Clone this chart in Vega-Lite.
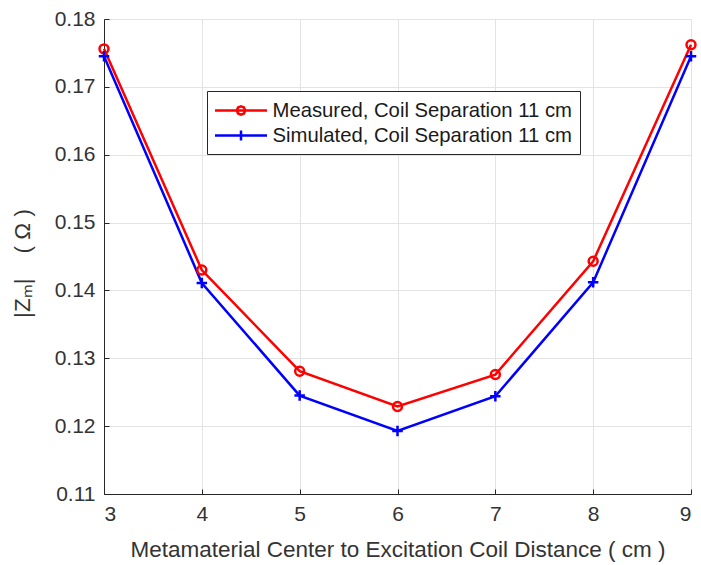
{
  "$schema": "https://vega.github.io/schema/vega-lite/v6.json",
  "autosize": {"type": "none"},
  "width": 587,
  "height": 475,
  "padding": {"left": 104, "top": 19, "right": 10, "bottom": 71},
  "background": "white",
  "config": {
    "font": "Liberation Sans",
    "view": {"stroke": null},
    "axis": {
      "labelFont": "Liberation Sans",
      "titleFont": "Liberation Sans",
      "labelFontSize": 21,
      "titleFontSize": 22.5,
      "labelColor": "#333333",
      "titleColor": "#333333",
      "titleFontWeight": "normal",
      "domainColor": "#262626",
      "tickColor": "#262626",
      "gridColor": "#e3e3e3",
      "gridWidth": 1
    }
  },
  "data": {
    "values": [
      {"series": "Measured, Coil Separation 11 cm", "d": 3, "z": 0.1756},
      {"series": "Measured, Coil Separation 11 cm", "d": 4, "z": 0.1430},
      {"series": "Measured, Coil Separation 11 cm", "d": 5, "z": 0.1281},
      {"series": "Measured, Coil Separation 11 cm", "d": 6, "z": 0.1229},
      {"series": "Measured, Coil Separation 11 cm", "d": 7, "z": 0.1276},
      {"series": "Measured, Coil Separation 11 cm", "d": 8, "z": 0.1443},
      {"series": "Measured, Coil Separation 11 cm", "d": 9, "z": 0.1762},
      {"series": "Simulated, Coil Separation 11 cm", "d": 3, "z": 0.1745},
      {"series": "Simulated, Coil Separation 11 cm", "d": 4, "z": 0.1411},
      {"series": "Simulated, Coil Separation 11 cm", "d": 5, "z": 0.1245},
      {"series": "Simulated, Coil Separation 11 cm", "d": 6, "z": 0.1193},
      {"series": "Simulated, Coil Separation 11 cm", "d": 7, "z": 0.1244},
      {"series": "Simulated, Coil Separation 11 cm", "d": 8, "z": 0.1412},
      {"series": "Simulated, Coil Separation 11 cm", "d": 9, "z": 0.1745}
    ]
  },
  "encoding": {
    "x": {
      "field": "d", "type": "quantitative",
      "scale": {"domain": [3, 9], "nice": false, "zero": false},
      "axis": {
        "title": "Metamaterial Center to Excitation Coil Distance ( cm )",
        "values": [3, 4, 5, 6, 7, 8, 9],
        "format": "d",
        "tickSize": -5,
        "labelPadding": 14,
        "titleY": 44,
        "titleBaseline": "top"
      }
    },
    "y": {
      "field": "z", "type": "quantitative",
      "scale": {"domain": [0.11, 0.18], "nice": false, "zero": false},
      "axis": {
        "title": "|Zₘ|\u00a0\u00a0\u00a0 ( Ω )",
        "values": [0.11, 0.12, 0.13, 0.14, 0.15, 0.16, 0.17, 0.18],
        "format": ".2f",
        "tickSize": -5,
        "labelPadding": 14,
        "titleX": -70,
        "titleY": 244,
        "titleAlign": "center",
        "titleBaseline": "bottom"
      }
    }
  },
  "layer": [
    {
      "mark": {"type": "line", "strokeWidth": 2.5},
      "encoding": {
        "color": {
          "field": "series", "type": "nominal",
          "scale": {"domain": ["Measured, Coil Separation 11 cm", "Simulated, Coil Separation 11 cm"], "range": ["#ff0000", "#0000ff"]},
          "legend": {
            "title": null,
            "orient": "none",
            "legendX": 103,
            "legendY": 72,
            "direction": "vertical",
            "labelFont": "Liberation Sans",
            "labelFontSize": 20.3,
            "labelColor": "#1a1a1a",
            "labelOffset": 20,
            "labelLimit": 500,
            "symbolSize": 400,
            "symbolOffset": 14.5,
            "symbolStrokeWidth": 2.5,
            "rowPadding": 3,
            "padding": 8,
            "strokeColor": "#262626",
            "fillColor": "white",
            "cornerRadius": 0,
            "encode": {
              "symbols": {
                "update": {
                  "shape": {"signal": "datum.value === 'Measured, Coil Separation 11 cm' ? 'M-2.6,0L2.6,0M-0.42,0L-0.3,-0.3L0,-0.42L0.3,-0.3L0.42,0L0.3,0.3L0,0.42L-0.3,0.3Z' : 'M-2.6,0L2.6,0M0,-0.5L0,0.5'"},
                  "fill": {"value": "transparent"},
                  "strokeWidth": {"value": 2.5}
                }
              }
            }
          }
        }
      }
    },
    {
      "transform": [{"filter": "datum.series === 'Measured, Coil Separation 11 cm'"}],
      "mark": {"type": "point", "shape": "circle", "filled": false, "color": "#ff0000", "strokeWidth": 2.5, "size": 80, "opacity": 1},
      "encoding": {}
    },
    {
      "transform": [{"filter": "datum.series === 'Simulated, Coil Separation 11 cm'"}],
      "mark": {"type": "point", "shape": "M-1,0H1M0,-1V1", "filled": false, "color": "#0000ff", "strokeWidth": 2.5, "size": 110, "opacity": 1},
      "encoding": {}
    }
  ]
}
